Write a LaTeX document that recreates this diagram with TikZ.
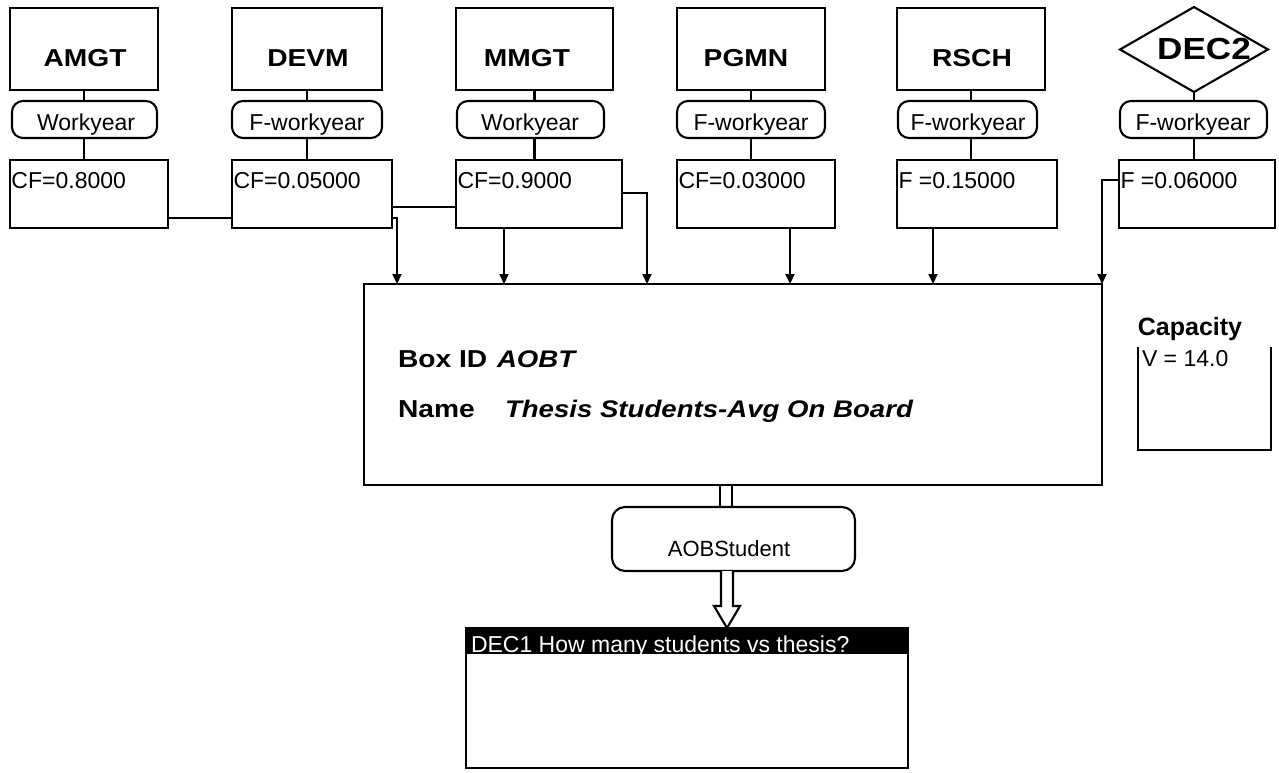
\documentclass[tikz,border=0pt]{standalone}
\usepackage{fontspec}
\setmainfont{Liberation Sans}
\newfontfamily\wide[FakeStretch=1.15]{Liberation Sans}
\usetikzlibrary{arrows.meta,shapes.geometric,calc}
\tikzset{
  every node/.style={inner sep=0pt, outer sep=0pt},
  ln/.style={line width=2.1pt},
  box/.style={draw, rectangle, line width=2.1pt},
  pill/.style={draw, rectangle, line width=2.1pt, rounded corners=11pt, minimum height=37pt},
  cfbox/.style={draw, rectangle, line width=2.1pt, minimum height=68pt},
  topbox/.style={draw, rectangle, line width=2.1pt, minimum height=82pt},
  reg/.style={font=\fontsize{23}{27}\selectfont},
  bname/.style={font=\wide\bfseries\fontsize{24.5}{28}\selectfont},
  bital/.style={font=\wide\bfseries\itshape\fontsize{24}{28}\selectfont},
  arr/.style={line width=2.1pt, -{Triangle[length=10pt,width=9pt]}},
}
\begin{document}
\begin{tikzpicture}[x=1pt,y=-1pt]
\useasboundingbox (0,0) rectangle (1279,773);

% ---- top source boxes ----
\node[topbox, minimum width=148pt] (b1) at (84,49) {};
\node[topbox, minimum width=150pt] (b2) at (307,49) {};
\node[topbox, minimum width=157pt] (b3) at (534.5,49) {};
\node[topbox, minimum width=148pt] (b4) at (751,49) {};
\node[topbox, minimum width=148pt] (b5) at (971,49) {};
\node[draw, diamond, line width=2.1pt, minimum width=148pt, minimum height=85pt] (b6) at (1194,49.5) {};

\node[bname, anchor=base] (t1) at (85,67) {AMGT};
\node[bname, anchor=base] (t2) at (308,67) {DEVM};
\node[bname, anchor=base] (t3) at (527,67) {MMGT};
\node[bname, anchor=base] (t4) at (746,67) {PGMN};
\node[bname, anchor=base] (t5) at (972,67) {RSCH};
\node[font=\wide\bfseries\fontsize{30.5}{34}\selectfont, anchor=base] (t6) at (1204,60) {DEC2};

% ---- pills ----
\node[pill, minimum width=145pt] (p1) at (84.5,119.5) {};
\node[pill, minimum width=150pt] (p2) at (307,119.5) {};
\node[pill, minimum width=147pt] (p3) at (530.5,119.5) {};
\node[pill, minimum width=148pt] (p4) at (751,119.5) {};
\node[pill, minimum width=139pt] (p5) at (967.5,119.5) {};
\node[pill, minimum width=147pt] (p6) at (1193.5,119.5) {};

\node[reg, anchor=base] (q1) at (86,131) {Workyear};
\node[reg, anchor=base] (q2) at (307,131) {F-workyear};
\node[reg, anchor=base] (q3) at (530,131) {Workyear};
\node[reg, anchor=base] (q4) at (751,131) {F-workyear};
\node[reg, anchor=base] (q5) at (968,131) {F-workyear};
\node[reg, anchor=base] (q6) at (1193,131) {F-workyear};

% ---- coefficient boxes ----
\node[cfbox, minimum width=158pt] (f1) at (89,194) {};
\node[cfbox, minimum width=160pt] (f2) at (312,194) {};
\node[cfbox, minimum width=166pt] (f3) at (539,194) {};
\node[cfbox, minimum width=158pt] (f4) at (756,194) {};
\node[cfbox, minimum width=160pt] (f5) at (977,194) {};
\node[cfbox, minimum width=156pt] (f6) at (1197,194) {};

\node[reg, anchor=base west] (v1) at ($(f1.north west)+(1.5,28)$) {CF=0.8000};
\node[reg, anchor=base west] (v2) at ($(f2.north west)+(1.5,28)$) {CF=0.05000};
\node[reg, anchor=base west] (v3) at ($(f3.north west)+(1.5,28)$) {CF=0.9000};
\node[reg, anchor=base west] (v4) at ($(f4.north west)+(1.5,28)$) {CF=0.03000};
\node[reg, anchor=base west] (v5) at ($(f5.north west)+(1.5,28)$) {F =0.15000};
\node[reg, anchor=base west] (v6) at ($(f6.north west)+(1.5,28)$) {F =0.06000};

% ---- vertical links box-pill-cf ----
\foreach \i in {1,...,6}{
  \draw[ln] (b\i.south) -- (b\i.south |- p\i.north);
  \draw[ln] (b\i.south |- p\i.south) -- (b\i.south |- f\i.north);
}

% ---- main box ----
\node[box, line width=2.6pt, minimum width=738pt, minimum height=201pt] (main) at (733,384.5) {};
\node[bname, anchor=base west] (bid) at (398,367) {Box ID};
\node[bital, anchor=base west] (bidv) at (497,367) {AOBT};
\node[bname, anchor=base west] (nm) at (398,417) {Name};
\node[bital, anchor=base west] (nmv) at (505,417) {Thesis Students-Avg On Board};

% ---- connectors to main box ----
\draw[ln] ([yshift=-24pt]f1.east) -- ([yshift=-24pt]f2.west);
\draw[ln] ([yshift=-13pt]f2.east) -- ([yshift=-13pt]f3.west);
\draw[arr] ([yshift=-24pt]f2.east) -| ([xshift=-336pt]main.north);
\draw[arr] ([xshift=-35pt]f3.south) -- ([xshift=-35pt]f3.south |- main.north);
\draw[arr] ([yshift=1pt]f3.east) -| ([xshift=-86pt]main.north);
\draw[arr] ([xshift=34pt]f4.south) -- ([xshift=34pt]f4.south |- main.north);
\draw[arr] ([xshift=-44pt]f5.south) -- ([xshift=-44pt]f5.south |- main.north);
\draw[arr] ([yshift=14pt]f6.west) -| (main.north east);

% ---- capacity ----
\node[font=\bfseries\fontsize{25}{30}\selectfont, anchor=base] (captitle) at (1190,335) {Capacity};
\node[minimum width=133pt, minimum height=103pt] (cap) at (1204.5,398.5) {};
\draw[ln] (cap.north west) -- (cap.south west) -- (cap.south east) -- (cap.north east);
\node[reg, anchor=base west] (capv) at ($(cap.north west)+(4,19.5)$) {V = 14.0};

% ---- output pill ----
\node[pill, minimum width=243pt, minimum height=64pt, rounded corners=13pt] (aob) at (733.5,539) {};
\node[font=\fontsize{22}{26}\selectfont, anchor=base] (aobt) at (729,556) {AOBStudent};
\draw[ln] ([xshift=-13pt]main.south) -- ([xshift=-13pt]main.south |- aob.north);
\draw[ln] ([xshift=-1pt]main.south) -- ([xshift=-1pt]main.south |- aob.north);

% ---- decision box ----
\node[box, minimum width=442pt, minimum height=140pt] (dec1) at (687,698) {};
\fill (dec1.north west) rectangle ([yshift=-26pt]dec1.north east);
\node[reg, text=white, anchor=base west] (dec1t) at ($(dec1.north west)+(5,24)$) {DEC1 How many students vs thesis?};

\coordinate (tip) at ($(dec1.north west)+(261,0)$);
\draw[ln, line join=miter, fill=white]
  ($(tip |- aob.south)+(-6,0)$) -- ($(tip)+(-6,-22)$) -- ($(tip)+(-13,-22)$) -- (tip)
  -- ($(tip)+(13,-22)$) -- ($(tip)+(6,-22)$) -- ($(tip |- aob.south)+(6,0)$);
\end{tikzpicture}
\end{document}
